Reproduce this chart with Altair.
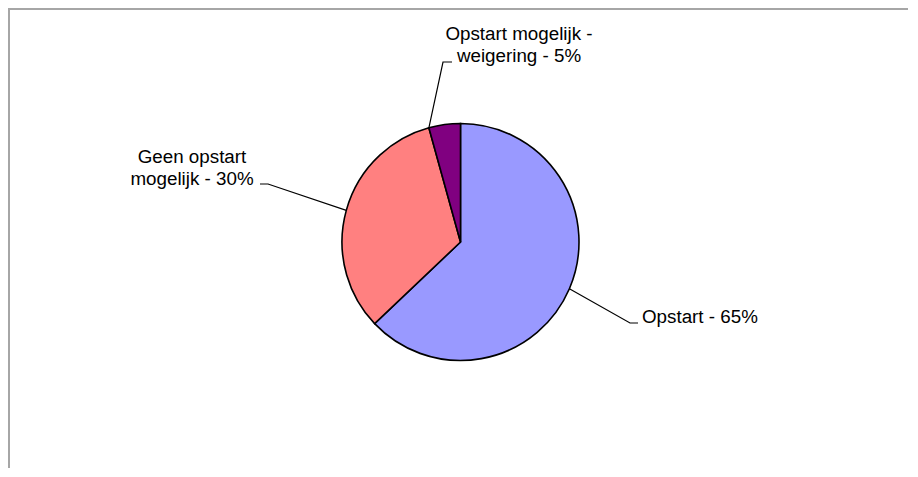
import math
import altair as alt
import pandas as pd

# ---- data ----
categories = ["Opstart", "Geen opstart mogelijk", "Opstart mogelijk - weigering"]
values = [62.9, 32.8, 4.3]          # slice sizes as drawn (share of circle, %)
label_lines = [
    ["Opstart - 65%"],
    ["Geen opstart", "mogelijk - 30%"],
    ["Opstart mogelijk -", "weigering - 5%"],
]
colors = ["#9999FF", "#FF8080", "#800080"]

# ---- layout (pixels inside the chart area) ----
W, H = 900, 460
CX, CY, R = 452.5, 234, 118.5
anchor_frac = [0.5, 0.5, 0.0]          # where on the slice the leader line attaches
elbows = [(622, 315), (260, 176), (435, 54)]
ends = [(630, 315), (252, 176), (444, 54)]
text_pos = [(634, 309, "left"), (184, 149, "center"), (511, 26, "center")]
LINE_H = 22
FONT = "Liberation Sans"
FS = 18.8

pie_df = pd.DataFrame({"cat": categories, "value": values, "idx": list(range(len(values)))})

total = sum(values)
cum = 0.0
lead_rows, text_rows = [], []
for i, v in enumerate(values):
    a = (cum + v * anchor_frac[i]) / total * 2 * math.pi
    cum += v
    sx, sy = CX + R * math.sin(a), CY - R * math.cos(a)
    for k, (px, py) in enumerate([(sx, sy), elbows[i], ends[i]]):
        lead_rows.append({"cat": categories[i], "k": k, "x": px, "y": py})
    tx, ty, al = text_pos[i]
    for j, line in enumerate(label_lines[i]):
        text_rows.append({"cat": categories[i], "t": line, "x": tx, "y": ty + j * LINE_H, "align": al})

lead_df = pd.DataFrame(lead_rows)
text_df = pd.DataFrame(text_rows)

xs = alt.Scale(domain=[0, W], nice=False, zero=False)
ys = alt.Scale(domain=[H, 0], nice=False, zero=False)

pie = alt.Chart(pie_df).mark_arc(outerRadius=R, stroke="black", strokeWidth=1.6).encode(
    theta=alt.Theta("value:Q", stack=True),
    color=alt.Color("cat:N", scale=alt.Scale(domain=categories, range=colors), legend=None),
    order=alt.Order("idx:Q"),
    x=alt.value(CX),
    y=alt.value(CY),
)

leaders = alt.Chart(lead_df).mark_line(color="black", strokeWidth=1.2).encode(
    x=alt.X("x:Q", scale=xs, axis=None),
    y=alt.Y("y:Q", scale=ys, axis=None),
    detail="cat:N",
    order="k:Q",
)

txt_center = alt.Chart(text_df[text_df["align"] == "center"]).mark_text(
    align="center", baseline="middle", font=FONT, fontSize=FS, color="black"
).encode(
    x=alt.X("x:Q", scale=xs, axis=None),
    y=alt.Y("y:Q", scale=ys, axis=None),
    text="t:N",
)

txt_left = alt.Chart(text_df[text_df["align"] == "left"]).mark_text(
    align="left", baseline="middle", font=FONT, fontSize=FS, color="black"
).encode(
    x=alt.X("x:Q", scale=xs, axis=None),
    y=alt.Y("y:Q", scale=ys, axis=None),
    text="t:N",
)

frame_left = alt.Chart(pie_df.head(1)).mark_rule(color="#a6a6a6", strokeWidth=2).encode(
    x=alt.value(1), y=alt.value(0), y2=alt.value(H)
)
frame_top = alt.Chart(pie_df.head(1)).mark_rule(color="#a6a6a6", strokeWidth=2).encode(
    x=alt.value(0), x2=alt.value(W), y=alt.value(1)
)

chart = alt.layer(frame_left, frame_top, pie, leaders, txt_center, txt_left).properties(
    width=W, height=H, padding=0, autosize="none"
).configure_view(strokeWidth=0)

chart.save("out.html", embed_options={"renderer": "svg", "actions": False})
